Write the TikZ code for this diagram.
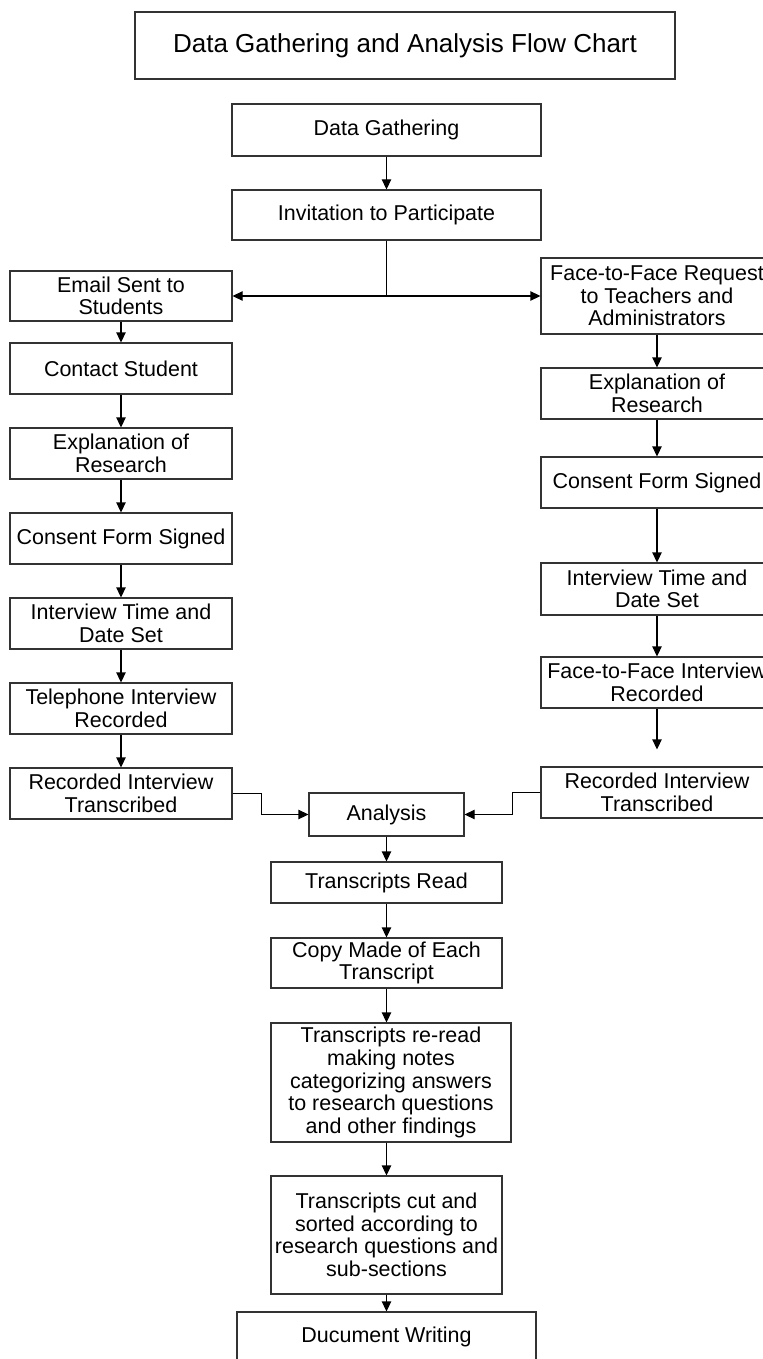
\documentclass[tikz,border=0pt]{standalone}
\usepackage{fontspec}
\setmainfont{Liberation Sans}
\usetikzlibrary{arrows.meta}
\begin{document}
\begin{tikzpicture}[x=0.75pt,y=-0.75pt,
  box/.style={draw=black!80,line width=0.8pt,inner sep=0pt,align=center,
    font=\fontsize{16.1pt}{16.9pt}\selectfont},
  conn/.style={draw=black,line width=0.8pt,-{Triangle[length=7.5pt,width=7pt]}},
  plain/.style={draw=black,line width=0.8pt}]
\useasboundingbox (0,0) rectangle (763,1359);
\clip (0,0) rectangle (763,1359);
% title
\node[box,minimum width=405pt,minimum height=50.25pt,font=\fontsize{19.5pt}{21pt}\selectfont] (title) at (405,45.5) {Data Gathering and Analysis Flow Chart};
% top
\node[box,minimum width=231.75pt,minimum height=39pt] (dg) at (386.5,130) {Data Gathering};
\node[box,minimum width=231.75pt,minimum height=37.5pt] (inv) at (386.5,215) {Invitation to Participate};
% left column
\node[box,minimum width=166.5pt,minimum height=37.5pt] (email) at (121,296) {Email Sent to\\Students};
\node[box,minimum width=166.5pt,minimum height=38.25pt] (contact) at (121,368.5) {Contact Student};
\node[box,minimum width=166.5pt,minimum height=38.25pt] (explL) at (121,453.5) {Explanation of\\Research};
\node[box,minimum width=166.5pt,minimum height=38.25pt] (consL) at (121,538.5) {Consent Form Signed};
\node[box,minimum width=166.5pt,minimum height=38.25pt] (itdL) at (121,623.5) {Interview Time and\\Date Set};
\node[box,minimum width=166.5pt,minimum height=38.25pt] (tel) at (121,708.5) {Telephone Interview\\Recorded};
\node[box,minimum width=166.5pt,minimum height=38.25pt] (recL) at (121,793.5) {Recorded Interview\\Transcribed};
% right column
\node[box,minimum width=174pt,minimum height=57pt] (ftfr) at (657,296) {Face-to-Face Request\\to Teachers and\\Administrators};
\node[box,minimum width=174pt,minimum height=38.25pt] (explR) at (657,393.5) {Explanation of\\Research};
\node[box,minimum width=174pt,minimum height=38.25pt] (consR) at (657,482.5) {Consent Form Signed};
\node[box,minimum width=174pt,minimum height=39pt] (itdR) at (657,589) {Interview Time and\\Date Set};
\node[box,minimum width=174pt,minimum height=38.25pt] (ftfi) at (657,682.5) {Face-to-Face Interview\\Recorded};
\node[box,minimum width=174pt,minimum height=38.25pt] (recR) at (657,792.5) {Recorded Interview\\Transcribed};
% analysis
\node[box,minimum width=116.25pt,minimum height=32.25pt] (anal) at (386.5,814.5) {Analysis};
\node[box,minimum width=173.25pt,minimum height=30.75pt] (tread) at (386.5,882.5) {Transcripts Read};
\node[box,minimum width=173.25pt,minimum height=37.5pt] (copy) at (386.5,963) {Copy Made of Each\\Transcript};
\node[box,minimum width=180pt,minimum height=89.25pt] (reread) at (391,1082.5) {Transcripts re-read\\making notes\\categorizing answers\\to research questions\\and other findings};
\node[box,minimum width=173.25pt,minimum height=88.5pt] (cut) at (386.5,1235) {Transcripts cut and\\sorted according to\\research questions and\\sub-sections};
\node[box,minimum width=224.25pt,minimum height=37.5pt] (doc) at (386.5,1337) {Ducument Writing};
% connectors
\draw[conn] (dg) -- (inv);
\draw[conn] (inv.south) |- (email.east);
\draw[conn] (inv.south) |- (ftfr.west);
\draw[conn] (email) -- (contact);
\draw[conn] (contact) -- (explL);
\draw[conn] (explL) -- (consL);
\draw[conn] (consL) -- (itdL);
\draw[conn] (itdL) -- (tel);
\draw[conn] (tel) -- (recL);
\draw[conn] (ftfr) -- (explR);
\draw[conn] (explR) -- (consR);
\draw[conn] (consR) -- (itdR);
\draw[conn] (itdR) -- (ftfi);
\draw[conn,shorten >=12.75pt] (ftfi) -- (recR);
\draw[conn] (recL.east) -- ++(29,0) |- (anal.west);
\draw[conn] (recR.west) -- ++(-28,0) |- (anal.east);
\draw[conn] (anal) -- (tread);
\draw[conn] (tread) -- (copy);
\draw[conn] (copy.south) -- (copy.south |- reread.north);
\draw[conn] (cut.north |- reread.south) -- (cut.north);
\draw[conn] (cut) -- (doc);
\end{tikzpicture}
\end{document}
